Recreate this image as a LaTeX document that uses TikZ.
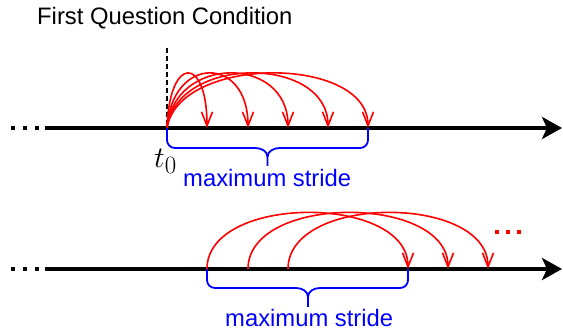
\documentclass[tikz,border=0pt]{standalone}
\usepackage{fontspec}
\setmainfont{Liberation Sans}
\usetikzlibrary{arrows.meta,calc}
\tikzset{
  axisline/.style={line width=4pt, -{Stealth[length=20pt,width=22pt,inset=5pt]}},
  jump/.style={red, line width=1.6pt, -{Straight Barb[length=14pt,width=11pt]}},
  bracepath/.style={blue, line width=1.8pt, line join=round},
  lbl/.style={inner sep=0pt, font=\fontsize{23.8}{28}\selectfont},
  sq/.style={inner sep=0pt, minimum size=4.5pt, fill},
}
\begin{document}
\begin{tikzpicture}[x=1pt,y=-1pt]
\useasboundingbox (0,0) rectangle (563,331);
% title
\node[lbl, anchor=base west] (title) at (37,25) {First Question Condition};

% ---- top axis ----
\coordinate (a1s) at (45,128);
\coordinate (a1e) at (562,128);
\draw[axisline] (a1s) -- (a1e);
\node[sq] (d1) at (13,128) {};
\node[sq] (d2) at (25,128) {};
\node[sq] (d3) at (37,128) {};

\coordinate (t0) at (167,128);
\coordinate (dtop) at (167,48);
\draw[line width=1.5pt, dash pattern=on 5pt off 3pt] (dtop) -- (t0);
\node[inner sep=0pt, anchor=base west, font=\fontsize{24.88}{30}\selectfont] (t0lbl) at (154,168) {\scalebox{1.2}{$t_0$}};

\foreach \x/\n in {207/1,248/2,288/3,328/4,368/5}{
  \coordinate (p\n) at (\x,128);
}
\foreach \n/\dx in {1/40,2/81,3/121,4/161,5/201}{
  \draw[jump] (t0) .. controls ($(t0)+(0.06*\dx,-73)$) and ($(p\n)+(0,-73)$) .. (p\n);
}

% top brace
\draw[bracepath] (t0) -- (167,140) to[out=-90,in=180] (175,148) -- (255,148)
   to[out=0,in=90] (267.5,157) -- (267.5,166);
\draw[bracepath] (p5) -- (368,140) to[out=-90,in=0] (360,148) -- (280,148)
   to[out=180,in=90] (267.5,157);
\node[lbl, blue, anchor=base west] (ms1) at (183,187) {maximum stride};

% ---- bottom axis ----
\coordinate (a2s) at (45,269);
\coordinate (a2e) at (562,269);
\draw[axisline] (a2s) -- (a2e);
\node[sq] (e1) at (13,269) {};
\node[sq] (e2) at (25,269) {};
\node[sq] (e3) at (37,269) {};

\foreach \x/\n in {207/1,248/2,288/3}{
  \coordinate (s\n) at (\x,269);
}
\foreach \x/\n in {408/1,448/2,488/3}{
  \coordinate (e\n t) at (\x,269);
}
\foreach \n in {1,2,3}{
  \draw[jump] (s\n) .. controls ($(s\n)+(0,-75)$) and ($(e\n t)+(0,-75)$) .. (e\n t);
}
\node[sq, red] (r1) at (497,232) {};
\node[sq, red] (r2) at (508,232) {};
\node[sq, red] (r3) at (519,232) {};

% bottom brace
\draw[bracepath] (s1) -- (207,280) to[out=-90,in=180] (215,288) -- (296,288)
   to[out=0,in=90] (308,297) -- (308,307);
\draw[bracepath] (e1t) -- (408,280) to[out=-90,in=0] (400,288) -- (320,288)
   to[out=180,in=90] (308,297);
\node[lbl, blue, anchor=base west] (ms2) at (225,327) {maximum stride};
\end{tikzpicture}
\end{document}
